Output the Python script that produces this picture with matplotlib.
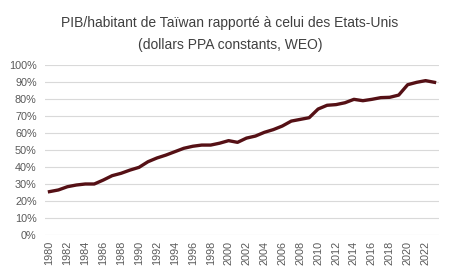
import matplotlib
matplotlib.use("Agg")
import matplotlib.pyplot as plt
from matplotlib.ticker import PercentFormatter

# Données (PIB/hab Taïwan en % des Etats-Unis)
years = list(range(1980, 2024))
ratio = [25.5, 26.5, 28.4, 29.4, 30.0, 30.0, 32.3, 34.9, 36.3, 38.2,
         39.8, 43.1, 45.3, 47.0, 49.0, 51.0, 52.2, 52.9, 52.9, 54.0,
         55.5, 54.5, 57.0, 58.2, 60.4, 62.0, 64.1, 67.0, 68.0, 69.0,
         74.1, 76.3, 76.7, 77.8, 79.8, 79.0, 79.8, 80.8, 81.0, 82.3,
         88.4, 89.8, 90.8, 89.8]
yticks = list(range(0, 101, 10))

plt.rcParams['font.family'] = ['Liberation Sans', 'DejaVu Sans']

fig = plt.figure(figsize=(4.6, 2.8), dpi=100)
ax = fig.add_axes([45/460, 1 - 235/280, 394/460, 170/280])

ax.plot(years, ratio, color='#551015', linewidth=2.4, solid_joinstyle='round')

ax.set_xlim(1979.5, 2023.5)
ax.set_ylim(0, 100)
ax.set_yticks(yticks)
ax.yaxis.set_major_formatter(PercentFormatter(decimals=0))
ax.set_xticks(years[::2])
ax.tick_params(axis='x', labelrotation=90, labelsize=7.8, colors='#595959', length=0, pad=4)
ax.tick_params(axis='y', labelsize=7.8, colors='#595959', length=0, pad=6)

ax.grid(axis='y', color='#d9d9d9', linewidth=0.8)
ax.set_axisbelow(True)
for s in ax.spines.values():
    s.set_visible(False)

fig.text(0.5, 1 - 23/280, "PIB/habitant de Taïwan rapporté à celui des Etats-Unis",
         ha='center', va='center', fontsize=10, color='#404040')
fig.text(0.5, 1 - 45/280, "(dollars PPA constants, WEO)",
         ha='center', va='center', fontsize=10, color='#404040')

fig.savefig("out.png", dpi=100)
